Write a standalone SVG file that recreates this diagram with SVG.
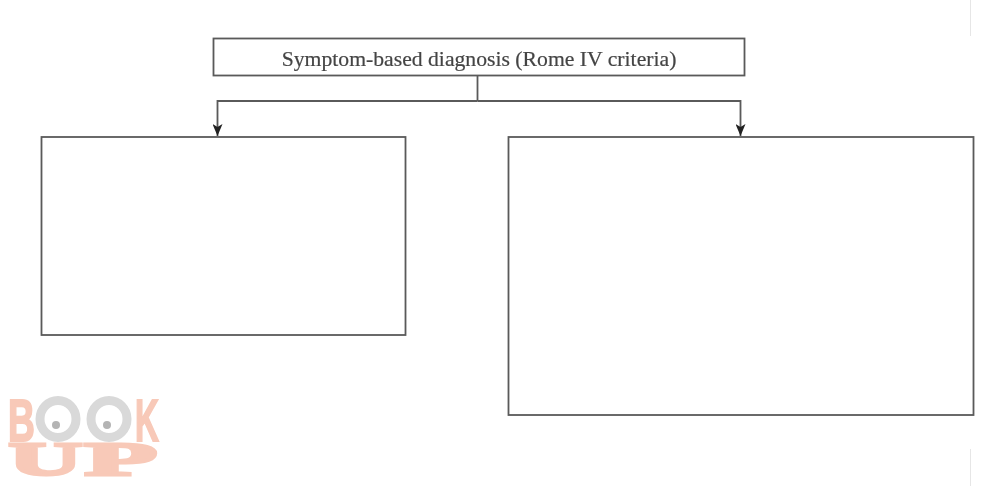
<svg xmlns="http://www.w3.org/2000/svg" width="1001" height="486" viewBox="0 0 1001 486">
<style>
.box{fill:#fff;stroke:#5a5a5a;stroke-width:1.8}
.line{fill:none;stroke:#5a5a5a;stroke-width:1.8}
.title{font-family:"Liberation Serif",serif;font-size:21.7px;fill:#444;stroke:#444;stroke-width:.2;text-anchor:middle}
.logo{font-family:"Liberation Sans",sans-serif;font-weight:bold;fill:#f8c9b8;stroke:#f8c9b8;stroke-width:2}
.slab{font-family:"Liberation Serif",serif;font-weight:bold;fill:#f8c9b8;stroke:#f8c9b8;stroke-width:3}
.ring{fill:none;stroke:#d9d9d9;stroke-width:9}
.dot{fill:#b4b4b4}
.edge{stroke:#e6e6e6;stroke-width:1;fill:none}
</style>
<defs>
<filter id="soft" x="-5%" y="-5%" width="110%" height="110%"><feGaussianBlur stdDeviation="0.45"/></filter>
<marker id="arrow" markerUnits="userSpaceOnUse" markerWidth="12" markerHeight="10" refX="12" refY="5" orient="auto" viewBox="0 0 12 10">
<path d="M0 0 L3 5 L0 10 L12 5 Z" fill="#222"/>
</marker>
</defs>
<rect width="1001" height="486" fill="#fff"/>
<path class="edge" d="M970.500 0V36M970.500 449V486"/>
<g filter="url(#soft)">
<g id="connectors">
<path class="line" d="M477.500 76V101"/>
<path class="line" d="M477.500 101H217.500V136" marker-end="url(#arrow)"/>
<path class="line" d="M477.500 101H740.500V136" marker-end="url(#arrow)"/>
</g>
<g id="node-symptom">
<rect class="box" x="213.500" y="38.500" width="531" height="37"/>
<text class="title" x="479" y="66">Symptom-based diagnosis (Rome IV criteria)</text>
</g>
<g id="node-left"><rect class="box" x="41.500" y="137" width="364" height="198"/></g>
<g id="node-right"><rect class="box" x="508.500" y="137" width="465" height="278"/></g>
<g id="logo">
<text class="logo" transform="translate(8 441) scale(.62 1)" font-size="60">B</text>
<text class="logo" transform="translate(135 441) scale(.55 1)" font-size="60">K</text>
<ellipse class="ring" cx="58" cy="419" rx="18" ry="18.500"/>
<ellipse class="ring" cx="109" cy="419" rx="18" ry="18.500"/>
<circle class="dot" cx="56" cy="425" r="4"/>
<circle class="dot" cx="107" cy="425" r="4"/>
<text class="slab" transform="translate(9 475) scale(2.150 1)" font-size="47">U</text>
<text class="slab" transform="translate(85 475) scale(2.500 1)" font-size="47">P</text>
</g>
</g>
</svg>
